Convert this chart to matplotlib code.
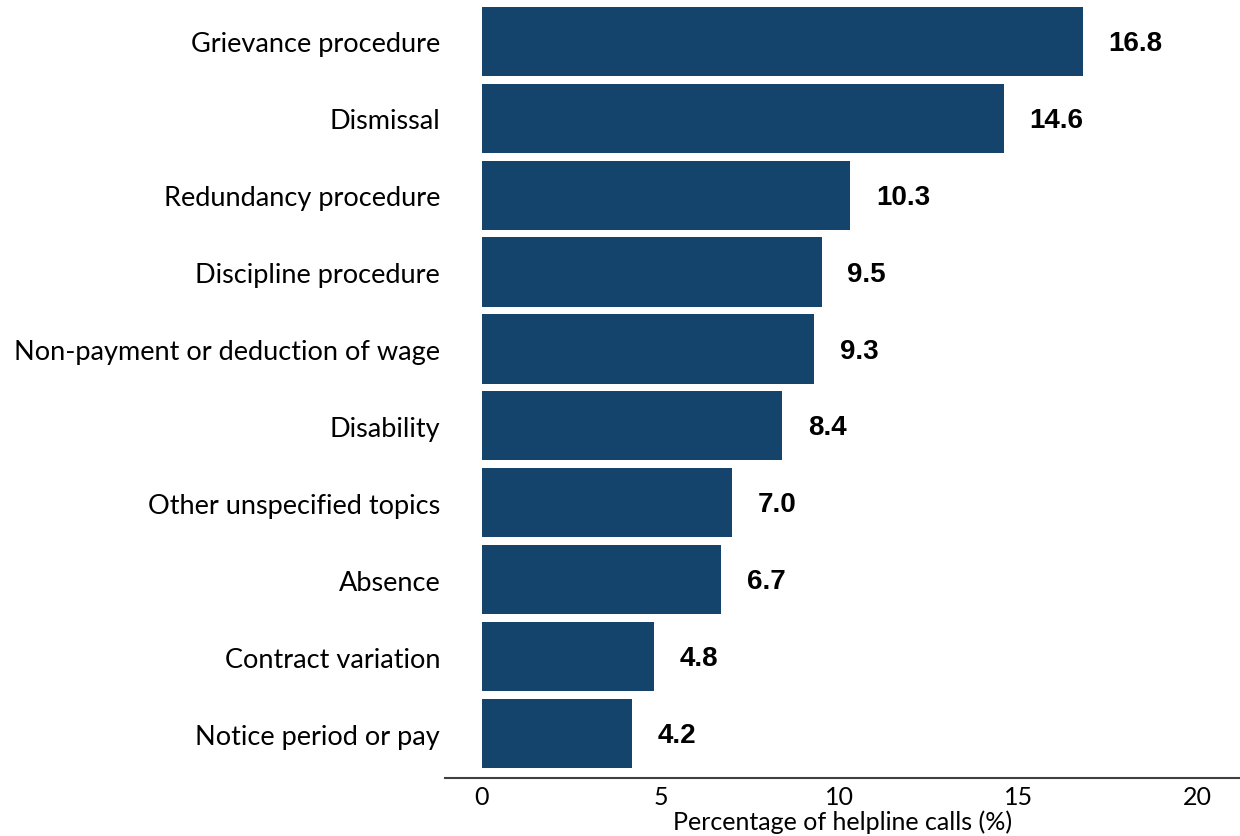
import matplotlib
matplotlib.use('Agg')
import matplotlib.pyplot as plt

topics = ['Grievance procedure', 'Dismissal', 'Redundancy procedure',
          'Discipline procedure', 'Non-payment or deduction of wage',
          'Disability', 'Other unspecified topics', 'Absence',
          'Contract variation', 'Notice period or pay']
share = [16.8, 14.6, 10.3, 9.5, 9.3, 8.4, 7.0, 6.7, 4.8, 4.2]

bar_color = '#14436b'
label_font = 'Lato'

fig = plt.figure(figsize=(12.4, 8.37), dpi=100)
ax = fig.add_axes([0.3589, 0.0693, 0.6411, 0.9307])

pos = list(range(len(topics)))
ax.barh(pos, share, height=0.9, color=bar_color)

for y, v in zip(pos, share):
    ax.text(v + 0.72, y + 0.02, f'{v:.1f}', va='center', ha='left',
            fontsize=20, fontweight='bold', family='Liberation Sans')

ax.set_yticks(pos)
ax.set_yticklabels(topics, fontsize=19.5, family=label_font)
ax.set_ylim(len(topics) - 1 + 0.578, -0.55)
ax.set_xlim(-1.03, 21.2)
ax.set_xticks([0, 5, 10, 15, 20])
ax.set_xticklabels(['0', '5', '10', '15', '20'], fontsize=18, family=label_font)
ax.tick_params(axis='both', length=0)
ax.tick_params(axis='y', pad=3.5)
ax.tick_params(axis='x', pad=5)
ax.set_xlabel('Percentage of helpline calls (%)', fontsize=18, family=label_font, labelpad=1)

for s in ['top', 'right', 'left']:
    ax.spines[s].set_visible(False)
ax.spines['bottom'].set_color('#404040')
ax.spines['bottom'].set_linewidth(1.5)

fig.savefig('out.png', dpi=100)
